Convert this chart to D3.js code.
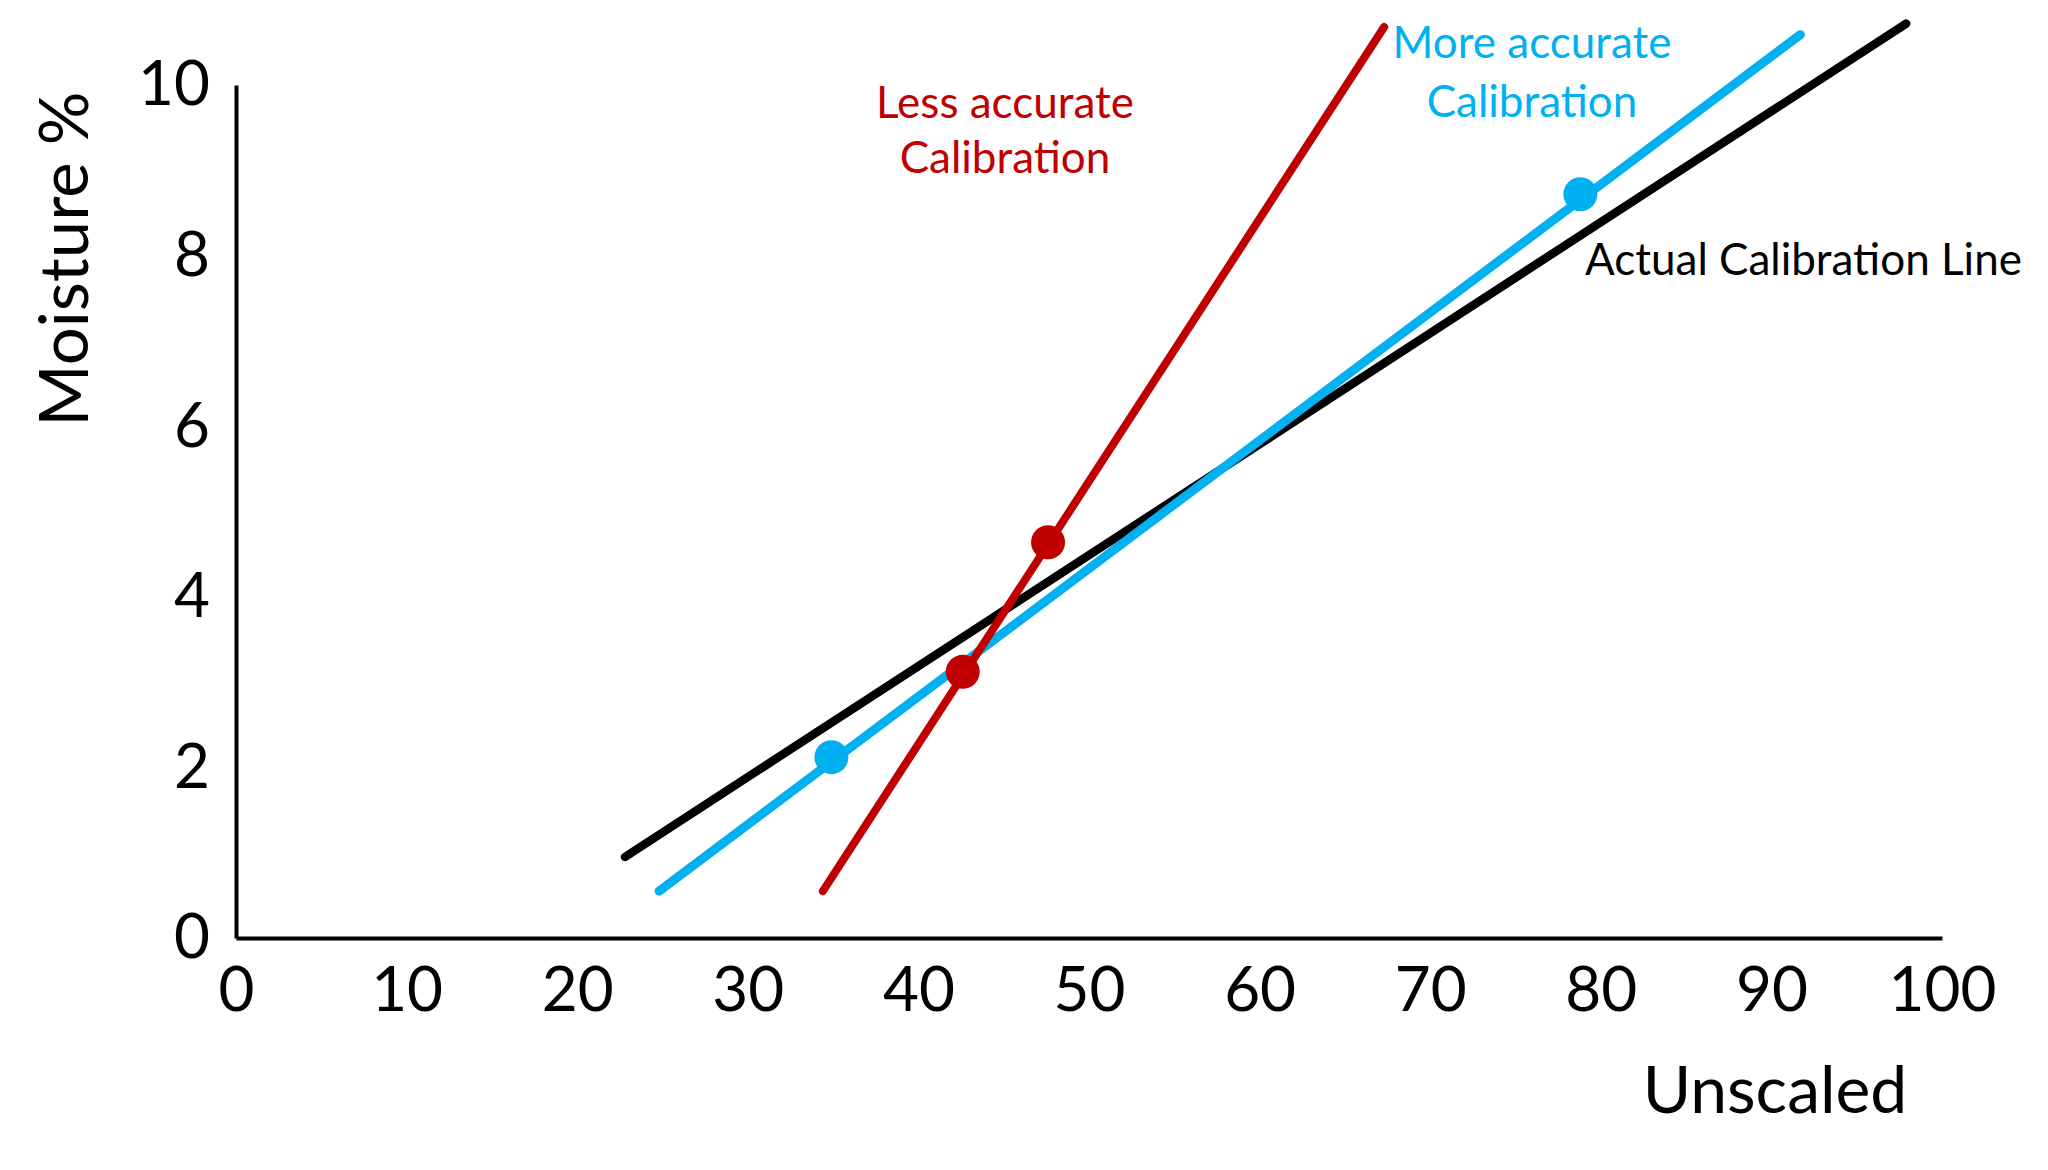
<!DOCTYPE html>
<html>
<head>
<meta charset="utf-8">
<script src="https://cdn.jsdelivr.net/npm/d3@7"></script>
<style>
  body { margin: 0; background: #fff; }
  svg { display: block; font-family: Lato, "Open Sans", sans-serif; }
</style>
</head>
<body>
<svg id="chart" width="2048" height="1170"></svg>
<script>
// tick values
const xTicks = [0, 10, 20, 30, 40, 50, 60, 70, 80, 90, 100];
const yTicks = [0, 2, 4, 6, 8, 10];

// calibration lines (start / end)
const actualX = [22.8, 97.9];
const actualY = [0.95, 10.72];
const moreX = [24.8, 91.7];
const moreY = [0.55, 10.59];
const lessX = [34.4, 67.3];
const lessY = [0.55, 10.68];

// calibration points
const morePtsX = [34.9, 78.8];
const morePtsY = [2.12, 8.72];
const lessPtsX = [42.6, 47.6];
const lessPtsY = [3.12, 4.64];

const svg = d3.select("#chart");

const x = d3.scaleLinear().domain([0, 100]).range([236, 1942]);
const y = d3.scaleLinear().domain([0, 10]).range([938, 85]);

// axes
let xAxis = svg.append("g")
    .attr("transform", "translate(0," + y(0) + ")")
    .call(d3.axisBottom(x).tickValues(xTicks).tickSize(0).tickPadding(29));
let yAxis = svg.append("g")
    .attr("transform", "translate(" + x(0) + ",0)")
    .call(d3.axisLeft(y).tickValues(yTicks).tickSize(0).tickPadding(26));

[xAxis, yAxis].forEach(function(a){
    a.select(".domain").attr("stroke", "#000").attr("stroke-width", 4);
    a.selectAll("text")
        .attr("font-family", "Lato, sans-serif")
        .attr("font-size", 62)
        .attr("fill", "#000");
});

// axis titles
svg.append("text")
    .attr("x", 1775).attr("y", 1113)
    .attr("text-anchor", "middle")
    .attr("font-size", 66)
    .text("Unscaled");

svg.append("text")
    .attr("transform", "translate(88,259) rotate(-90)")
    .attr("text-anchor", "middle")
    .attr("font-size", 67)
    .text("Moisture %");

// lines
let line = d3.line().x(d => x(d[0])).y(d => y(d[1]));

let series = [
    {xs: actualX, ys: actualY, color: "#000000", w: 8.5},
    {xs: moreX, ys: moreY, color: "#00B0F0", w: 9},
    {xs: lessX, ys: lessY, color: "#C00000", w: 8}
];

series.forEach(function(s){
    svg.append("path")
        .datum(d3.zip(s.xs, s.ys))
        .attr("d", line)
        .attr("fill", "none")
        .attr("stroke", s.color)
        .attr("stroke-width", s.w)
        .attr("stroke-linecap", "round");
});

// points
svg.append("g").selectAll("circle")
    .data(d3.zip(morePtsX, morePtsY))
    .enter().append("circle")
    .attr("cx", d => x(d[0]))
    .attr("cy", d => y(d[1]))
    .attr("r", 17)
    .attr("fill", "#00B0F0");

svg.append("g").selectAll("circle")
    .data(d3.zip(lessPtsX, lessPtsY))
    .enter().append("circle")
    .attr("cx", d => x(d[0]))
    .attr("cy", d => y(d[1]))
    .attr("r", 17)
    .attr("fill", "#C00000");

// annotations
let less = svg.append("text")
    .attr("text-anchor", "middle")
    .attr("font-size", 44)
    .attr("fill", "#C00000");
less.append("tspan").attr("x", 1005).attr("y", 118).text("Less accurate");
less.append("tspan").attr("x", 1005).attr("y", 173).text("Calibration");

let more = svg.append("text")
    .attr("text-anchor", "middle")
    .attr("font-size", 44)
    .attr("fill", "#00B0F0");
more.append("tspan").attr("x", 1532).attr("y", 58).text("More accurate");
more.append("tspan").attr("x", 1532).attr("y", 117).text("Calibration");

svg.append("text")
    .attr("x", 1585).attr("y", 275)
    .attr("font-size", 44)
    .attr("fill", "#000")
    .text("Actual Calibration Line");
</script>
</body>
</html>
